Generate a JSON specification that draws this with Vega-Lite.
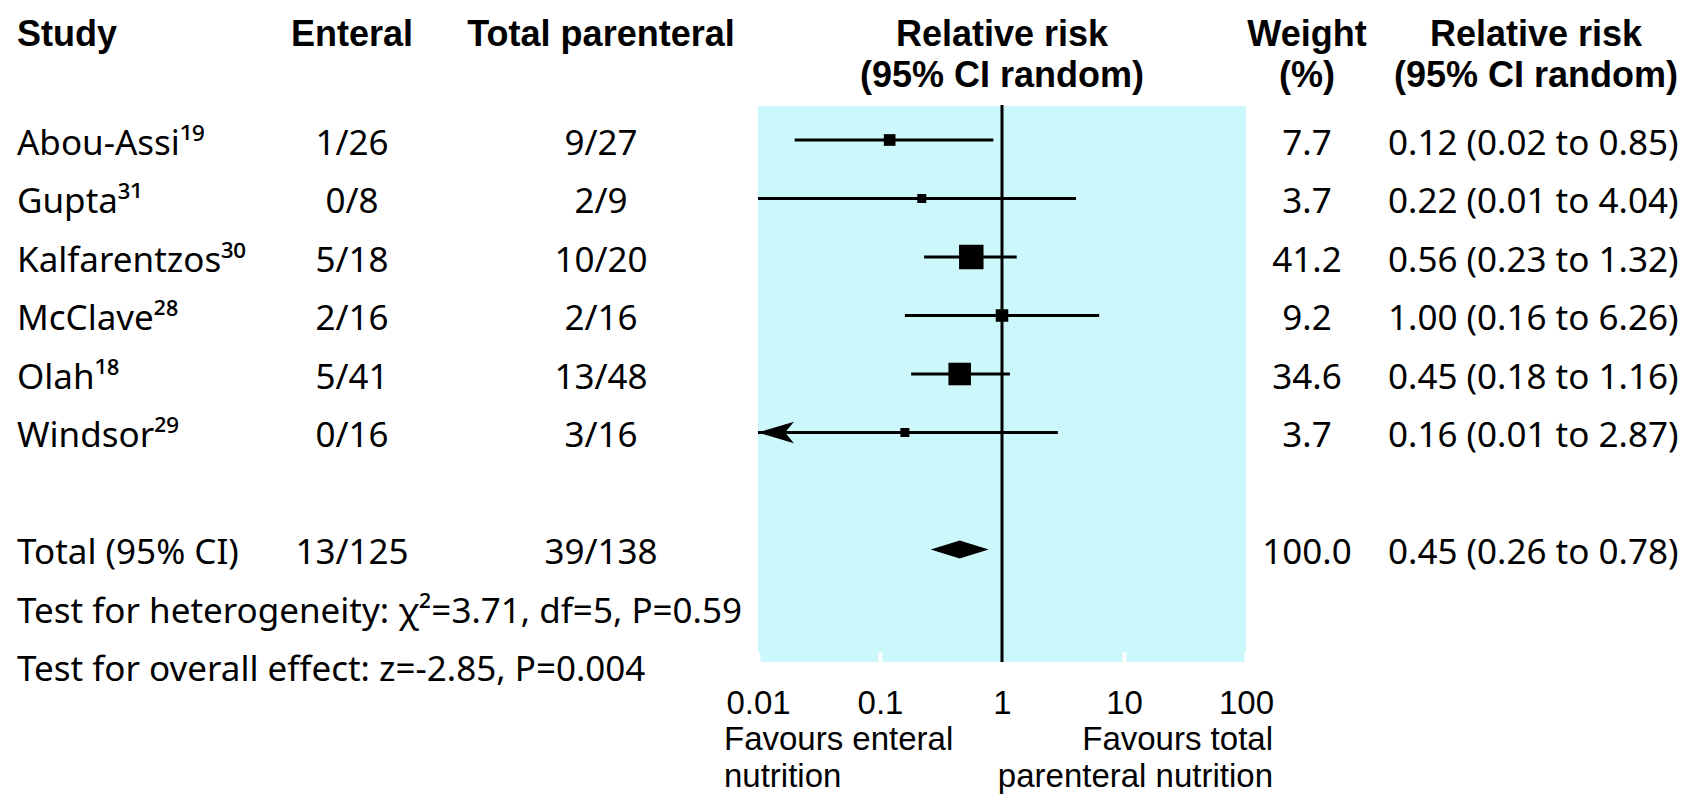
{
  "$schema": "https://vega.github.io/schema/vega-lite/v6.json",
  "background": "white",
  "padding": 0,
  "spacing": 0,
  "bounds": "flush",
  "config": {
    "view": {"stroke": null},
    "text": {"font": "Noto Sans", "fontSize": 35, "color": "black"}
  },
  "datasets": {
    "rows": [
      {"row": 1, "type": "study", "study": "Abou-Assi¹⁹", "enteral": "1/26", "parenteral": "9/27", "weight": 7.7, "rr": 0.12, "lo": 0.02, "hi": 0.85, "rr_text": "0.12 (0.02 to 0.85)"},
      {"row": 2, "type": "study", "study": "Gupta³¹", "enteral": "0/8", "parenteral": "2/9", "weight": 3.7, "rr": 0.22, "lo": 0.01, "hi": 4.04, "rr_text": "0.22 (0.01 to 4.04)"},
      {"row": 3, "type": "study", "study": "Kalfarentzos³⁰", "enteral": "5/18", "parenteral": "10/20", "weight": 41.2, "rr": 0.56, "lo": 0.23, "hi": 1.32, "rr_text": "0.56 (0.23 to 1.32)"},
      {"row": 4, "type": "study", "study": "McClave²⁸", "enteral": "2/16", "parenteral": "2/16", "weight": 9.2, "rr": 1.0, "lo": 0.16, "hi": 6.26, "rr_text": "1.00 (0.16 to 6.26)"},
      {"row": 5, "type": "study", "study": "Olah¹⁸", "enteral": "5/41", "parenteral": "13/48", "weight": 34.6, "rr": 0.45, "lo": 0.18, "hi": 1.16, "rr_text": "0.45 (0.18 to 1.16)"},
      {"row": 6, "type": "study", "study": "Windsor²⁹", "enteral": "0/16", "parenteral": "3/16", "weight": 3.7, "rr": 0.16, "lo": 0.01, "hi": 2.87, "rr_text": "0.16 (0.01 to 2.87)", "truncated": true},
      {"row": 8, "type": "total", "study": "Total (95% CI)", "enteral": "13/125", "parenteral": "39/138", "weight": 100.0, "rr": 0.45, "lo": 0.26, "hi": 0.78, "rr_text": "0.45 (0.26 to 0.78)"},
      {"row": 9, "type": "note", "study": "Test for heterogeneity: χ²=3.71, df=5, P=0.59"},
      {"row": 10, "type": "note", "study": "Test for overall effect: z=-2.85, P=0.004"}
    ],
    "labels": [
      {"key": "study", "label": "Study"},
      {"key": "enteral", "label": "Enteral"},
      {"key": "parenteral", "label": "Total parenteral"},
      {"key": "forest", "label": ["Relative risk", "(95% CI random)"]},
      {"key": "weight", "label": ["Weight", "(%)"]},
      {"key": "rr", "label": ["Relative risk", "(95% CI random)"]},
      {"key": "fav_left_1", "label": "Favours enteral"},
      {"key": "fav_left_2", "label": "nutrition"},
      {"key": "fav_right_1", "label": "Favours total"},
      {"key": "fav_right_2", "label": "parenteral nutrition"}
    ]
  },
  "hconcat": [
    {
      "width": 444,
      "height": 795,
      "layer": [
        {
          "data": {"name": "labels"},
          "transform": [{"filter": "datum.key === 'study'"}],
          "mark": {"type": "text", "align": "left", "baseline": "alphabetic", "font": "Liberation Sans", "fontWeight": "bold", "fontSize": 36},
          "encoding": {
            "x": {"field": "key", "type": "nominal", "scale": {"type": "point", "domain": ["study", "enteral"], "range": [17, 352], "padding": 0}, "axis": null},
            "y": {"datum": -0.615, "type": "quantitative", "scale": {"domain": [-1.393, 12.197], "reverse": true, "nice": false, "zero": false}, "axis": null},
            "text": {"field": "label"}
          }
        },
        {
          "data": {"name": "labels"},
          "transform": [{"filter": "datum.key === 'enteral'"}],
          "mark": {"type": "text", "align": "center", "baseline": "alphabetic", "font": "Liberation Sans", "fontWeight": "bold", "fontSize": 36},
          "encoding": {
            "x": {"field": "key", "type": "nominal", "axis": null},
            "y": {"datum": -0.615, "type": "quantitative", "axis": null},
            "text": {"field": "label"}
          }
        },
        {
          "data": {"name": "rows"},
          "mark": {"type": "text", "align": "left", "baseline": "alphabetic", "dy": 15},
          "encoding": {
            "x": {"datum": "study", "type": "nominal", "axis": null},
            "y": {"field": "row", "type": "quantitative", "axis": null},
            "text": {"field": "study"}
          }
        },
        {
          "data": {"name": "rows"},
          "transform": [{"filter": "isValid(datum.enteral)"}],
          "mark": {"type": "text", "align": "center", "baseline": "alphabetic", "dy": 15},
          "encoding": {
            "x": {"datum": "enteral", "type": "nominal", "axis": null},
            "y": {"field": "row", "type": "quantitative", "axis": null},
            "text": {"field": "enteral"}
          }
        }
      ]
    },
    {
      "width": 314,
      "height": 795,
      "layer": [
        {
          "data": {"name": "labels"},
          "transform": [{"filter": "datum.key === 'parenteral'"}],
          "mark": {"type": "text", "align": "center", "baseline": "alphabetic", "font": "Liberation Sans", "fontWeight": "bold", "fontSize": 36},
          "encoding": {
            "y": {"datum": -0.615, "type": "quantitative", "scale": {"domain": [-1.393, 12.197], "reverse": true, "nice": false, "zero": false}, "axis": null},
            "text": {"field": "label"}
          }
        },
        {
          "data": {"name": "rows"},
          "transform": [{"filter": "isValid(datum.parenteral)"}],
          "mark": {"type": "text", "align": "center", "baseline": "alphabetic", "dy": 15},
          "encoding": {
            "y": {"field": "row", "type": "quantitative", "axis": null},
            "text": {"field": "parenteral"}
          }
        }
      ]
    },
    {
      "width": 488,
      "height": 662,
      "layer": [
        {
          "data": {"name": "labels"},
          "transform": [{"filter": "datum.key === 'forest'"}],
          "mark": {"type": "rect", "color": "#ccf8fb"},
          "encoding": {
            "x": {"datum": 0.01, "type": "quantitative", "scale": {"type": "log", "domain": [0.01, 100], "nice": false},
              "axis": {"values": [0.01, 0.1, 1, 10, 100], "format": "~g", "domain": false, "grid": false, "title": null,
                "labelFont": "Liberation Sans", "labelFontSize": 33, "labelColor": "black", "labelFlush": false, "labelOverlap": false,
                "labelPadding": 35, "tickSize": -10, "tickWidth": 4, "tickColor": "white",
                "tickOpacity": {"condition": {"test": "datum.value === 1", "value": 0}, "value": 1}, "zindex": 1}},
            "x2": {"datum": 100},
            "y": {"datum": 0.419, "type": "quantitative", "scale": {"domain": [-1.393, 9.923], "reverse": true, "nice": false, "zero": false}, "axis": null},
            "y2": {"datum": 9.923}
          }
        },
        {
          "data": {"name": "labels"},
          "transform": [{"filter": "datum.key === 'forest'"}],
          "mark": {"type": "rule", "color": "black", "strokeWidth": 3},
          "encoding": {
            "x": {"datum": 1, "type": "quantitative"},
            "y": {"datum": 0.402, "type": "quantitative"},
            "y2": {"datum": 9.923}
          }
        },
        {
          "data": {"name": "rows"},
          "transform": [{"filter": "datum.type === 'study'"}],
          "mark": {"type": "rule", "color": "black", "strokeWidth": 3},
          "encoding": {
            "x": {"field": "lo", "type": "quantitative"},
            "x2": {"field": "hi"},
            "y": {"field": "row", "type": "quantitative"}
          }
        },
        {
          "data": {"name": "rows"},
          "transform": [{"filter": "datum.truncated === true"}],
          "mark": {"type": "point", "shape": "M0,0L1,-0.3L0.75,0L1,0.3Z", "filled": true, "color": "black", "opacity": 1, "size": 5184, "strokeWidth": 0},
          "encoding": {
            "x": {"field": "lo", "type": "quantitative"},
            "y": {"field": "row", "type": "quantitative"}
          }
        },
        {
          "data": {"name": "rows"},
          "transform": [{"filter": "datum.type === 'study'"}],
          "mark": {"type": "point", "shape": "square", "filled": true, "color": "black", "opacity": 1, "strokeWidth": 0},
          "encoding": {
            "x": {"field": "rr", "type": "quantitative"},
            "y": {"field": "row", "type": "quantitative"},
            "size": {"field": "weight", "type": "quantitative", "scale": {"domain": [0, 41.2], "range": [30, 600]}, "legend": null}
          }
        },
        {
          "data": {"name": "rows"},
          "transform": [{"filter": "datum.type === 'total'"}],
          "mark": {"type": "point", "shape": "M-1,0L0,-0.31L1,0L0,0.31Z", "filled": true, "color": "black", "opacity": 1, "size": 3364, "strokeWidth": 0},
          "encoding": {
            "x": {"field": "rr", "type": "quantitative"},
            "y": {"field": "row", "type": "quantitative"}
          }
        },
        {
          "data": {"name": "labels"},
          "transform": [{"filter": "datum.key === 'forest'"}],
          "mark": {"type": "text", "align": "center", "baseline": "alphabetic", "font": "Liberation Sans", "fontWeight": "bold", "fontSize": 36, "lineHeight": 41.5},
          "encoding": {
            "x": {"datum": 1, "type": "quantitative"},
            "y": {"datum": -0.615, "type": "quantitative"},
            "text": {"field": "label"}
          }
        },
        {
          "data": {"name": "labels"},
          "transform": [{"filter": "datum.key === 'fav_left_1'"}],
          "mark": {"type": "text", "align": "left", "baseline": "alphabetic", "dx": -34, "font": "Liberation Sans", "fontSize": 33},
          "encoding": {
            "x": {"datum": 0.01, "type": "quantitative"},
            "y": {"datum": 11.427, "type": "quantitative"},
            "text": {"field": "label"}
          }
        },
        {
          "data": {"name": "labels"},
          "transform": [{"filter": "datum.key === 'fav_left_2'"}],
          "mark": {"type": "text", "align": "left", "baseline": "alphabetic", "dx": -34, "font": "Liberation Sans", "fontSize": 33},
          "encoding": {
            "x": {"datum": 0.01, "type": "quantitative"},
            "y": {"datum": 12.06, "type": "quantitative"},
            "text": {"field": "label"}
          }
        },
        {
          "data": {"name": "labels"},
          "transform": [{"filter": "datum.key === 'fav_right_1'"}],
          "mark": {"type": "text", "align": "right", "baseline": "alphabetic", "dx": 27, "font": "Liberation Sans", "fontSize": 33},
          "encoding": {
            "x": {"datum": 100, "type": "quantitative"},
            "y": {"datum": 11.427, "type": "quantitative"},
            "text": {"field": "label"}
          }
        },
        {
          "data": {"name": "labels"},
          "transform": [{"filter": "datum.key === 'fav_right_2'"}],
          "mark": {"type": "text", "align": "right", "baseline": "alphabetic", "dx": 27, "font": "Liberation Sans", "fontSize": 33},
          "encoding": {
            "x": {"datum": 100, "type": "quantitative"},
            "y": {"datum": 12.06, "type": "quantitative"},
            "text": {"field": "label"}
          }
        }
      ]
    },
    {
      "width": 453,
      "height": 795,
      "layer": [
        {
          "data": {"name": "labels"},
          "transform": [{"filter": "datum.key === 'weight'"}],
          "mark": {"type": "text", "align": "center", "baseline": "alphabetic", "font": "Liberation Sans", "fontWeight": "bold", "fontSize": 36, "lineHeight": 41.5},
          "encoding": {
            "x": {"field": "key", "type": "nominal", "scale": {"type": "point", "domain": ["weight", "rr"], "range": [61, 142], "padding": 0}, "axis": null},
            "y": {"datum": -0.615, "type": "quantitative", "scale": {"domain": [-1.393, 12.197], "reverse": true, "nice": false, "zero": false}, "axis": null},
            "text": {"field": "label"}
          }
        },
        {
          "data": {"name": "labels"},
          "transform": [{"filter": "datum.key === 'rr'"}],
          "mark": {"type": "text", "align": "center", "baseline": "alphabetic", "dx": 148, "font": "Liberation Sans", "fontWeight": "bold", "fontSize": 36, "lineHeight": 41.5},
          "encoding": {
            "x": {"field": "key", "type": "nominal", "axis": null},
            "y": {"datum": -0.615, "type": "quantitative", "axis": null},
            "text": {"field": "label"}
          }
        },
        {
          "data": {"name": "rows"},
          "transform": [{"filter": "isValid(datum.weight)"}],
          "mark": {"type": "text", "align": "center", "baseline": "alphabetic", "dy": 15},
          "encoding": {
            "x": {"datum": "weight", "type": "nominal", "axis": null},
            "y": {"field": "row", "type": "quantitative", "axis": null},
            "text": {"field": "weight", "type": "quantitative", "format": ".1f"}
          }
        },
        {
          "data": {"name": "rows"},
          "transform": [{"filter": "isValid(datum.rr_text)"}],
          "mark": {"type": "text", "align": "left", "baseline": "alphabetic", "dy": 15},
          "encoding": {
            "x": {"datum": "rr", "type": "nominal", "axis": null},
            "y": {"field": "row", "type": "quantitative", "axis": null},
            "text": {"field": "rr_text"}
          }
        }
      ]
    }
  ]
}
